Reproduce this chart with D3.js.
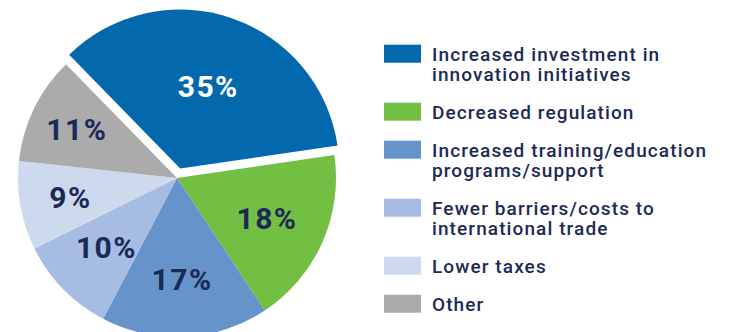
<!DOCTYPE html>
<html lang="en">

<head>
  <meta charset="utf-8">
  <title>Pie chart</title>
  <script type="text/javascript" src="https://cdn.jsdelivr.net/npm/d3@7"></script>
  <style type="text/css">
    body { margin: 0; background: #fff; }
    svg { display: block; }
  </style>
</head>

<body>
  <script type="text/javascript">

    // Width and height
    const w = 729;
    const h = 332;

    // Data
    const categories = [
      "Increased investment in innovation initiatives",
      "Decreased regulation",
      "Increased training/education programs/support",
      "Fewer barriers/costs to international trade",
      "Lower taxes",
      "Other"
    ];
    const legendLines = [
      ["Increased investment in", "innovation initiatives"],
      ["Decreased regulation"],
      ["Increased training/education", "programs/support"],
      ["Fewer barriers/costs to", "international trade"],
      ["Lower taxes"],
      ["Other"]
    ];
    const values = [35, 18, 17, 10, 9, 11];
    const colors = ["#0468ad", "#72bf44", "#6693ca", "#a6bce2", "#cdd9ed", "#ababab"];
    const labelColors = ["#ffffff", "#1b2a55", "#1b2a55", "#1b2a55", "#1b2a55", "#1b2a55"];

    const cx = 177, cy = 178, r = 159;
    const explode = 10;
    const start = -44.3 * Math.PI / 180;
    // how far out each percentage sits (fraction of radius)
    const labelRadius = [0.55, 0.62, 0.64, 0.62, 0.68, 0.70];

    const svg = d3.select("body")
      .append("svg")
      .attr("width", w)
      .attr("height", h);

    const pie = d3.pie()
      .sort(null)
      .startAngle(start)
      .endAngle(start + 2 * Math.PI);

    const arcs = pie(values);

    const arc = d3.arc().innerRadius(0).outerRadius(r);

    const g = svg.append("g").attr("transform", `translate(${cx},${cy})`);

    // offset of each slice (only the first one is pulled out)
    function offset(d, i) {
      if (i !== 0) return [0, 0];
      const a = (d.startAngle + d.endAngle) / 2;
      return [Math.sin(a) * explode, -Math.cos(a) * explode];
    }

    const slices = g.selectAll("g.slice")
      .data(arcs)
      .enter()
      .append("g")
      .attr("class", "slice")
      .attr("transform", function (d, i) {
        const o = offset(d, i);
        return `translate(${o[0]},${o[1]})`;
      });

    slices.append("path")
      .attr("d", arc)
      .attr("fill", function (d, i) { return colors[i]; });

    slices.append("text")
      .attr("transform", function (d, i) {
        const lr = r * labelRadius[i];
        const c = d3.arc().innerRadius(lr).outerRadius(lr).centroid(d);
        return `translate(${c[0]},${c[1]})`;
      })
      .attr("text-anchor", "middle")
      .attr("dy", "0.36em")
      .attr("fill", function (d, i) { return labelColors[i]; })
      .style("font-family", "Roboto, sans-serif")
      .style("font-weight", 700)
      .style("font-size", "30px")
      .style("letter-spacing", "1.5px")
      .text(function (d) { return d.value + "%"; });

    // Legend
    const legend = svg.append("g");
    let y = 44.7;
    categories.forEach(function (c, i) {
      const item = legend.append("g").attr("transform", `translate(384,${y})`);
      item.append("rect")
        .attr("width", 37)
        .attr("height", 18)
        .attr("fill", colors[i]);
      item.selectAll("text")
        .data(legendLines[i])
        .enter()
        .append("text")
        .attr("x", 48)
        .attr("y", function (d, j) { return 16 + j * 20; })
        .attr("fill", "#1b2a55")
        .style("font-family", "Roboto, sans-serif")
        .style("font-weight", 500)
        .style("font-size", "19px")
        .style("letter-spacing", "1.1px")
        .text(function (d) { return d; });
      y += legendLines[i].length * 20 + 18;
    });

  </script>
</body>

</html>
